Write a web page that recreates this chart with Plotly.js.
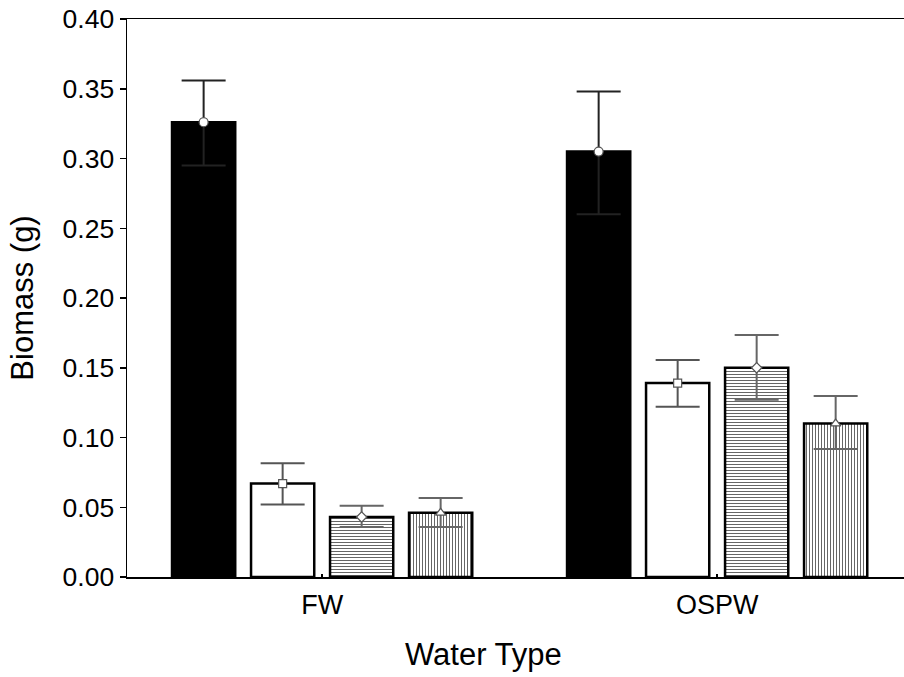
<!DOCTYPE html>
<html>
<head>
<meta charset="utf-8">
<script src="https://cdn.plot.ly/plotly-3.0.1.min.js"></script>
<style>
html,body{margin:0;padding:0;background:#fff;}
#chart{width:904px;height:677px;}
</style>
</head>
<body>
<div id="chart"></div>
<script>
// Categories
const waterTypes = ['FW', 'OSPW'];

// Series means (g)
const seriesBlack = [0.326, 0.305];
const seriesWhite = [0.067, 0.139];
const seriesHoriz = [0.043, 0.150];
const seriesVert  = [0.046, 0.110];

// Error bars (plus / minus)
const errBlackPlus  = [0.030, 0.043];
const errBlackMinus = [0.031, 0.045];
const errWhitePlus  = [0.0145, 0.0166];
const errWhiteMinus = [0.015, 0.017];
const errHorizPlus  = [0.008, 0.0235];
const errHorizMinus = [0.0072, 0.023];
const errVertPlus   = [0.0107, 0.0197];
const errVertMinus  = [0.0101, 0.0182];

// Y tick values
const yTicks = [0.00, 0.05, 0.10, 0.15, 0.20, 0.25, 0.30, 0.35, 0.40];

// Axis titles
const xTitle = 'Water Type';
const yTitle = 'Biomass (g)';

const FONT = '"Liberation Sans", Arial, sans-serif';

function barTrace(y, ep, em, group, fill, pattern, errColor) {
  const t = {
    type: 'bar', x: waterTypes, y: y, offsetgroup: group,
    marker: { color: fill, line: { color: '#000', width: 2.5 } },
    error_y: { type: 'data', symmetric: false, array: ep, arrayminus: em,
               color: errColor, thickness: 2, width: 22 },
    hoverinfo: 'skip', showlegend: false
  };
  if (pattern) {
    t.marker.pattern = { shape: pattern, fgcolor: '#666', bgcolor: '#fff',
                         size: 3, solidity: 0.35, fillmode: 'replace' };
  }
  return t;
}

function markerTrace(y, group, symbol, size) {
  return {
    type: 'scatter', mode: 'markers', x: waterTypes, y: y, offsetgroup: group,
    marker: { symbol: symbol, size: size, color: '#fff', line: { color: '#555', width: 1.2 } },
    hoverinfo: 'skip', showlegend: false, cliponaxis: false
  };
}

const data = [
  barTrace(seriesBlack, errBlackPlus, errBlackMinus, 'g1', '#000', null, '#222'),
  barTrace(seriesWhite, errWhitePlus, errWhiteMinus, 'g2', '#fff', null, '#555'),
  barTrace(seriesHoriz, errHorizPlus, errHorizMinus, 'g3', '#fff', '-', '#666'),
  barTrace(seriesVert,  errVertPlus,  errVertMinus,  'g4', '#fff', '|', '#666'),
  markerTrace(seriesBlack, 'g1', 'circle', 9),
  markerTrace(seriesWhite, 'g2', 'square', 8),
  markerTrace(seriesHoriz, 'g3', 'diamond', 8),
  markerTrace(seriesVert,  'g4', 'triangle-up', 9)
];

const layout = {
  width: 904, height: 677,
  margin: { l: 127, r: 0, t: 19, b: 100 },
  paper_bgcolor: '#fff', plot_bgcolor: '#fff',
  font: { family: FONT, color: '#000', size: 26 },
  barmode: 'group', bargap: 0.2, bargroupgap: 0.2,
  scattermode: 'group', scattergap: 0.2,
  showlegend: false,
  xaxis: {
    type: 'category', range: [-0.494, 1.473],
    showline: true, linecolor: '#000', linewidth: 1.5, mirror: true,
    ticks: 'inside', ticklen: 3, tickwidth: 1.5, tickcolor: '#000',
    showgrid: false, zeroline: false,
    tickfont: { family: FONT, size: 27 },
    ticklabelstandoff: 3
  },
  yaxis: {
    range: [0, 0.40], tickvals: yTicks, tickformat: '.2f',
    showline: true, linecolor: '#000', linewidth: 1.5, mirror: false,
    ticks: 'outside', ticklen: 6, tickwidth: 1.5, tickcolor: '#000',
    showgrid: false, zeroline: false,
    tickfont: { family: FONT, size: 26.5 },
    title: { text: yTitle, font: { family: FONT, size: 31 }, standoff: 20 }
  },
  annotations: [{
    text: xTitle, xref: 'paper', yref: 'paper',
    x: (483 - 127) / 777, y: -(655 - 577) / 558,
    xanchor: 'center', yanchor: 'middle', showarrow: false,
    font: { family: FONT, size: 31, color: '#000' }
  }]
};

Plotly.newPlot('chart', data, layout, { staticPlot: true, displayModeBar: false });
</script>
</body>
</html>
